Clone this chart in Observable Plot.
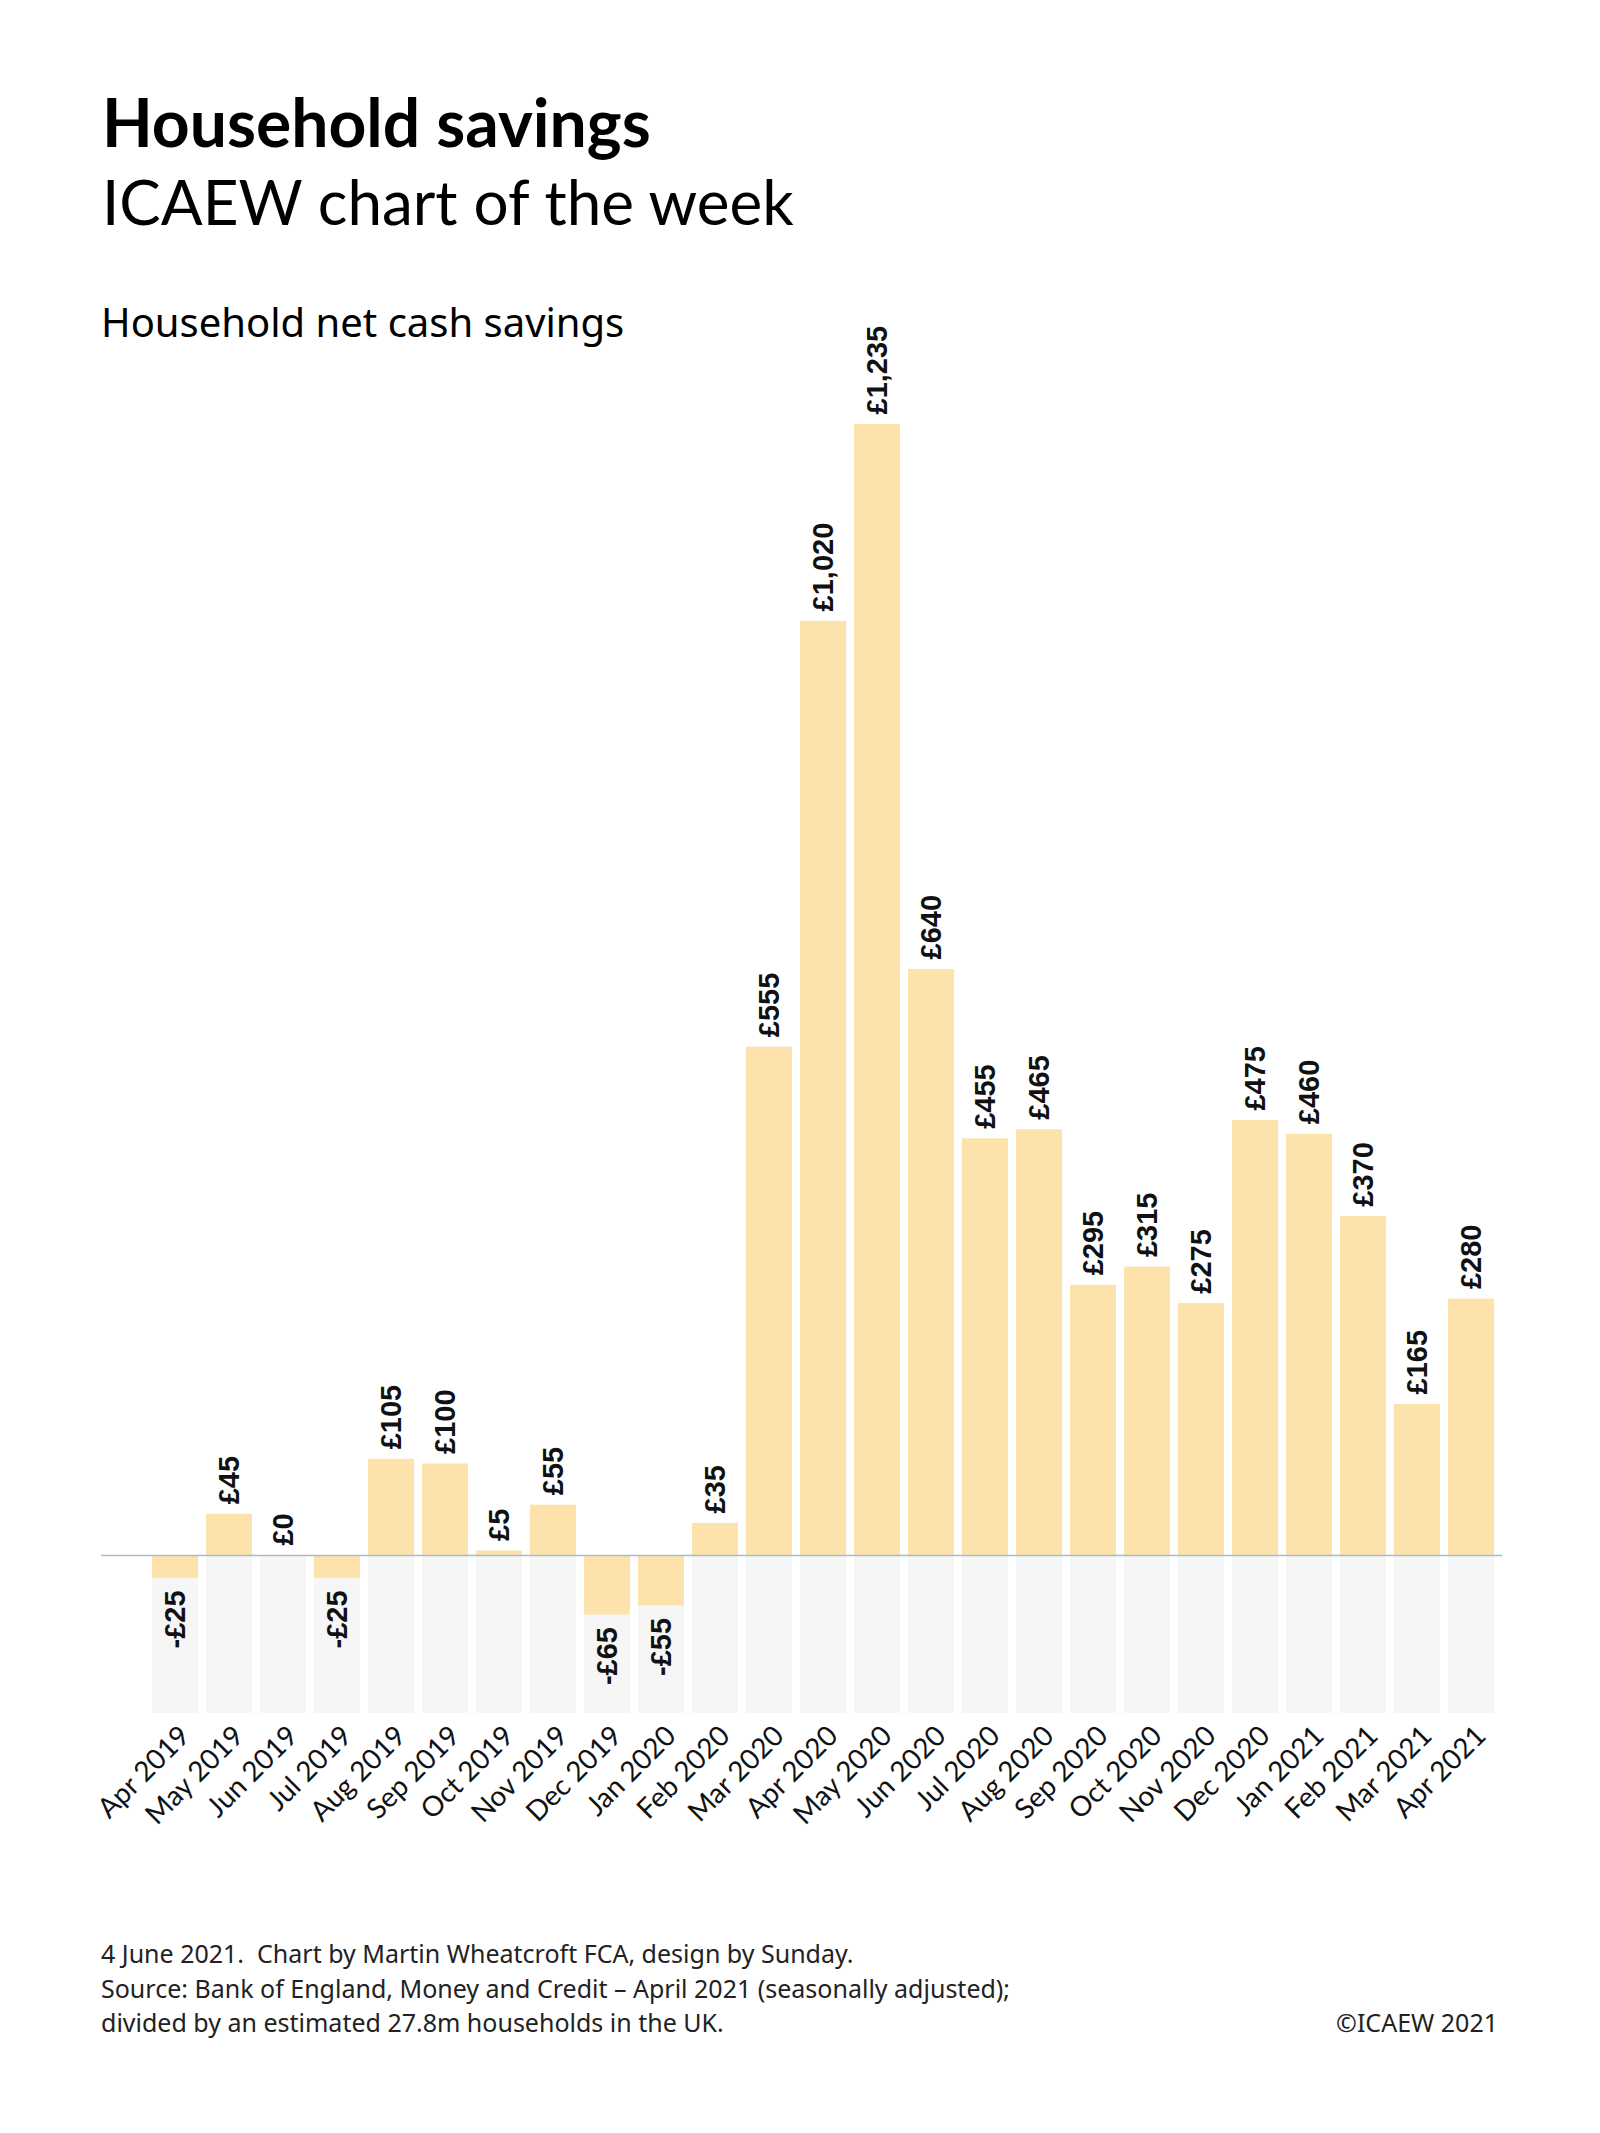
<!DOCTYPE html>
<html>
<head>
<meta charset="utf-8">
<script src="https://cdn.jsdelivr.net/npm/d3@7"></script>
<script src="https://cdn.jsdelivr.net/npm/@observablehq/plot@0.6"></script>
<style>
  html, body { margin: 0; padding: 0; background: #fff; }
  #page { position: relative; width: 1600px; height: 2133px; overflow: hidden; font-family: Lato, "Noto Sans", sans-serif; color: #000; }
  .t { position: absolute; white-space: pre; line-height: 1; }
  #title { left: 102px; top: 89px; font-size: 66px; font-weight: 700; }
  #subtitle { left: 102px; top: 170px; font-size: 62px; font-weight: 400; }
  #section { left: 101px; top: 302px; font-size: 40px; font-weight: 400; font-family: "Noto Sans", Lato, sans-serif; }
  .foot { left: 101px; font-size: 25px; color: #222; font-family: "Noto Sans", Lato, sans-serif; }
  #copy { right: 102px; left: auto; top: 2010px; font-size: 25px; color: #222; font-family: "Noto Sans", Lato, sans-serif; }
  #chart { position: absolute; left: 0; top: 290px; }
</style>
</head>
<body>
<div id="page">
  <div class="t" id="title">Household savings</div>
  <div class="t" id="subtitle">ICAEW chart of the week</div>
  <div class="t" id="section">Household net cash savings</div>
  <div id="chart"></div>
  <div class="t foot" style="top:1941px">4 June 2021.  Chart by Martin Wheatcroft FCA, design by Sunday.</div>
  <div class="t foot" style="top:1976px">Source: Bank of England, Money and Credit – April 2021 (seasonally adjusted);</div>
  <div class="t foot" style="top:2010px">divided by an estimated 27.8m households in the UK.</div>
  <div class="t" id="copy">©ICAEW 2021</div>
</div>
<script>
// Months (categories)
const months = [
  "Apr 2019", "May 2019", "Jun 2019", "Jul 2019", "Aug 2019", "Sep 2019",
  "Oct 2019", "Nov 2019", "Dec 2019", "Jan 2020", "Feb 2020", "Mar 2020",
  "Apr 2020", "May 2020", "Jun 2020", "Jul 2020", "Aug 2020", "Sep 2020",
  "Oct 2020", "Nov 2020", "Dec 2020", "Jan 2021", "Feb 2021", "Mar 2021",
  "Apr 2021"
];
// Household net cash savings, £ per household
const savings = [
  -25, 45, 0, -25, 105, 100, 5, 55, -65, -55, 35, 555,
  1020, 1235, 640, 455, 465, 295, 315, 275, 475, 460, 370, 165,
  280
];
// y scale extent (£)
const yDomain = [-172.5, 1235];

const data = months.map((m, i) => ({month: m, value: savings[i]}));
const fmt = d3.format(",");
const label = v => (v < 0 ? "-£" : "£") + fmt(Math.abs(v));

const BAR = "#fde3ab";
const valueFont = "'Liberation Sans', Arial, sans-serif";

const chart = Plot.plot({
  width: 1600,
  height: 1580,
  marginLeft: 101,
  marginRight: 98,
  marginTop: 134,
  marginBottom: 157,
  style: {fontFamily: "Lato, sans-serif", background: "transparent", overflow: "visible"},
  x: {domain: months, axis: null, paddingInner: 0.156, paddingOuter: 0, insetLeft: 45, insetRight: 3},
  y: {domain: yDomain, axis: null},
  marks: [
    // light grey backdrop below the zero line
    Plot.barY(months, {x: d => d, y1: 0, y2: yDomain[0], fill: "#f6f6f6"}),
    // data bars
    Plot.barY(data, {x: "month", y: "value", fill: BAR}),
    // zero line
    Plot.ruleY([0], {stroke: "#a3bfcc", strokeWidth: 1.5}),
    // value labels: positive / zero above the bar
    Plot.text(data.filter(d => d.value >= 0), {
      x: "month", y: "value", text: d => label(d.value),
      rotate: -90, textAnchor: "start", dy: -10,
      fontSize: 29, fontWeight: 700, fontFamily: valueFont, fill: "#111"
    }),
    // value labels: negative below the bar
    Plot.text(data.filter(d => d.value < 0), {
      x: "month", y: "value", text: d => label(d.value),
      rotate: -90, textAnchor: "end", dy: 12,
      fontSize: 29, fontWeight: 700, fontFamily: valueFont, fill: "#111"
    }),
    // month labels
    Plot.text(months, {
      x: d => d, frameAnchor: "bottom", text: d => d,
      rotate: -45, textAnchor: "end", dx: 16, dy: 24,
      fontSize: 28, fontFamily: "Lato, sans-serif", fill: "#111"
    })
  ]
});
document.getElementById("chart").appendChild(chart);
</script>
</body>
</html>
